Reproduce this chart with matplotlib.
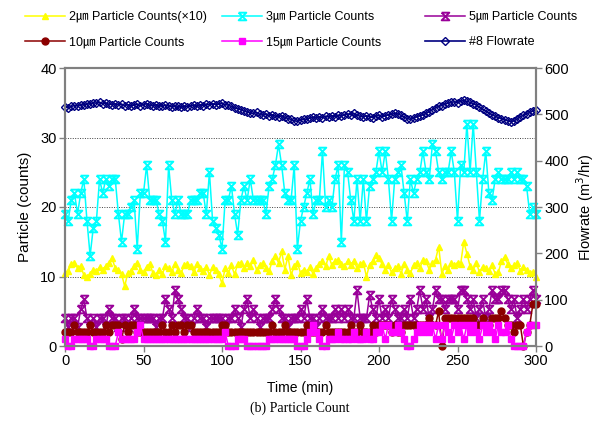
import numpy as np
import matplotlib
matplotlib.use("Agg")
import matplotlib.pyplot as plt
from matplotlib.path import Path

plt.rcParams.update({
    "font.family": ["Liberation Sans", "Noto Sans CJK JP", "DejaVu Sans"],
    "font.size": 10,
})

# time axis, one reading every 2 minutes
time_min = np.arange(0, 301, 2)

# 2 um particle counts (x10)
pc_2um = [
    10.5, 10.8, 11.8, 12.0, 11.2, 11.5, 10.2, 10.0, 10.3, 11.0,
    10.8, 11.3, 11.0, 11.5, 12.0, 12.6, 11.2, 11.0, 10.4, 8.6,
    10.5, 10.8, 11.5, 12.0, 11.0, 10.6, 11.4, 11.8, 10.5, 10.2,
    11.0, 10.4, 11.5, 11.2, 10.6, 11.8, 11.0, 10.5, 11.7, 11.8,
    11.5, 10.6, 11.8, 11.2, 10.8, 11.4, 10.2, 11.4, 11.0, 10.3,
    9.0, 11.2, 10.5, 11.6, 10.3, 11.8, 12.0, 11.2, 12.0, 11.5,
    12.4, 11.0, 11.6, 12.0, 11.2, 10.8, 12.2, 12.9, 12.0, 13.6,
    11.0, 12.9, 10.2, 11.5, 12.0, 10.5, 11.0, 10.6, 11.3, 10.4,
    11.2, 11.8, 12.3, 11.5, 12.9, 11.6, 12.2, 12.4, 11.8, 11.5,
    12.2, 11.6, 12.3, 11.2, 11.8, 12.0, 10.0, 11.7, 12.2, 13.1,
    12.6, 11.8, 11.0, 11.6, 10.6, 11.2, 11.5, 10.4, 11.8, 11.0,
    10.5, 11.6, 12.0, 11.2, 12.4, 12.2, 11.0, 12.0, 12.4, 14.3,
    10.4, 11.5, 11.0, 12.0, 11.6, 12.0, 11.8, 15.0, 13.3, 11.5,
    11.0, 12.0, 10.6, 11.4, 11.2, 10.8, 11.6, 10.4, 10.6, 12.2,
    12.8, 11.8, 11.2, 11.6, 12.0, 10.8, 11.4, 11.0, 10.5, 10.6,
    10.0,
]

# 3 um particle counts
pc_3um = [
    19, 18, 21, 22, 19, 22, 24, 18, 13, 17,
    18, 24, 22, 24, 23, 24, 24, 19, 15, 19,
    19, 20, 21, 14, 22, 22, 26, 21, 21, 21,
    19, 18, 15, 26, 21, 19, 21, 19, 19, 19,
    21, 21, 21, 22, 22, 19, 25, 18, 17, 16,
    14, 21, 21, 23, 19, 16, 21, 23, 21, 24,
    21, 21, 21, 21, 19, 23, 24, 26, 29, 26,
    22, 21, 21, 26, 14, 18, 20, 22, 24, 19,
    21, 21, 28, 20, 21, 20, 24, 26, 15, 26,
    25, 21, 18, 24, 18, 24, 18, 23, 24, 25,
    28, 25, 28, 24, 18, 24, 25, 26, 22, 18,
    24, 22, 24, 25, 28, 25, 24, 29, 28, 25,
    24, 25, 25, 28, 25, 18, 26, 25, 32, 25,
    32, 25, 18, 24, 28, 22, 21, 24, 25, 24,
    24, 24, 25, 24, 25, 24, 24, 23, 19, 20,
    19,
]

# 5 um particle counts
pc_5um = [
    4, 2.7, 4, 4, 2.7, 5.3, 6.7, 4, 2.7, 4,
    2.7, 4, 4, 2.7, 5.3, 4, 4, 2.7, 4, 4,
    2.7, 4, 5.3, 4, 4, 4, 4, 4, 4, 2.7,
    4, 4, 6.7, 5.3, 4, 8, 6.7, 5.3, 4, 4,
    2.7, 4, 5.3, 4, 4, 2.7, 4, 4, 4, 4,
    4, 2.7, 4, 4, 5.3, 4, 2.7, 5.3, 6.7, 4,
    5.3, 4, 2.7, 4, 4, 4, 5.3, 6.7, 5.3, 4,
    4, 2.7, 4, 4, 4, 5.3, 4, 6.7, 4, 4,
    2.7, 4, 5.3, 4, 4, 4, 5.3, 4, 5.3, 4,
    5.3, 4, 4, 8, 4, 4, 4, 7.3, 5.3, 4,
    6.7, 4, 5.3, 4, 6.7, 5.3, 4, 4, 5.3, 4,
    6.7, 4, 5.3, 8, 5.3, 6.7, 4, 5.3, 8, 6.7,
    6.7, 5.3, 6.7, 6.7, 6.7, 5.3, 8, 8, 6.7, 5.3,
    6.7, 4, 5.3, 6.7, 4, 5.3, 8, 6.7, 6.7, 8,
    8, 6.7, 5.3, 6.7, 4, 5.3, 6.7, 5.3, 6.7, 8,
    6.7,
]

# 10 um particle counts
pc_10um = [
    2, 2, 2, 3, 2, 2, 2, 2, 3, 2,
    2, 2, 2, 3, 2, 3, 3, 3, 1, 3,
    2, 3, 3, 2, 2, 2, 2, 2, 2, 2,
    2, 3, 2, 2, 3, 2, 3, 3, 2, 3,
    3, 2, 2, 2, 2, 2, 2, 2, 2, 2,
    3, 3, 2, 2, 2, 2, 2, 2, 2, 2,
    2, 2, 2, 2, 2, 2, 3, 2, 2, 2,
    3, 2, 2, 2, 2, 2, 2, 3, 2, 2,
    2, 2, 2, 3, 2, 2, 2, 2, 2, 2,
    2, 3, 2, 2, 3, 2, 2, 2, 3, 2,
    3, 3, 3, 3, 2, 3, 2, 2, 3, 3,
    3, 3, 3, 3, 3, 3, 4, 3, 3, 5,
    0, 4, 4, 4, 4, 4, 4, 4, 4, 4,
    4, 3, 3, 4, 3, 3, 4, 4, 4, 5,
    4, 3, 3, 2, 3, 3, 0, 2, 3, 6,
    6,
]

# 15 um particle counts
pc_15um = [
    1, 0, 0, 1, 1, 1, 1, 1, 0, 0,
    1, 1, 1, 1, 0, 0, 0, 2, 1, 1,
    1, 1, 1, 2, 3, 1, 1, 1, 1, 1,
    1, 1, 1, 1, 1, 1, 1, 1, 1, 1,
    1, 1, 1, 1, 1, 1, 1, 1, 1, 1,
    1, 2, 0, 0, 0, 1, 1, 1, 0, 0,
    0, 0, 0, 0, 0, 1, 1, 1, 1, 1,
    1, 1, 1, 1, 0, 0, 0, 1, 2, 3,
    2, 1, 0, 0, 1, 1, 1, 2, 1, 1,
    1, 1, 2, 1, 1, 1, 2, 1, 1, 2,
    2, 3, 1, 3, 2, 2, 3, 2, 1, 0,
    0, 1, 2, 3, 2, 3, 2, 3, 1, 3,
    1, 3, 2, 1, 3, 2, 3, 1, 3, 2,
    3, 2, 1, 3, 2, 3, 2, 1, 3, 2,
    2, 3, 1, 0, 0, 0, 0, 2, 3, 3,
    3,
]

# #8 flowrate (m3/hr)
flow_8 = [
    516, 514, 517, 519, 518, 521, 520, 523, 522, 525,
    524, 526, 523, 524, 522, 521, 523, 520, 522, 519,
    521, 518, 520, 522, 519, 521, 523, 520, 518, 521,
    519, 517, 520, 518, 516, 519, 517, 515, 518, 516,
    518, 520, 517, 521, 519, 522, 520, 523, 521, 522,
    524, 521, 520, 517, 514, 512, 510, 507, 505, 503,
    502, 504, 500, 498, 501, 497, 499, 496, 494, 497,
    494, 491, 489, 486, 485, 488, 490, 489, 492, 494,
    492, 495, 493, 496, 494, 497, 495, 498, 496, 499,
    501, 499, 502, 498, 496, 494, 497, 495, 493, 496,
    498, 495, 497, 499, 500, 502, 501, 498, 494, 491,
    489, 492, 495, 497, 499, 502, 506, 510, 514, 517,
    519, 522, 524, 526, 527, 525, 528, 530, 528, 526,
    523, 520, 515, 511, 507, 503, 499, 496, 493, 491,
    488, 486, 484, 486, 490, 495, 498, 501, 504, 507,
    510,
]

labels = ["2\u339b Particle Counts(\u00d710)", "3\u339b Particle Counts",
          "5\u339b Particle Counts", "10\u339b Particle Counts",
          "15\u339b Particle Counts", "#8 Flowrate"]

# hourglass marker like the spreadsheet "x with bars"
hourglass = Path([(-1, 1), (1, 1), (-1, -1), (1, -1), (-1, 1)],
                 [Path.MOVETO, Path.LINETO, Path.LINETO, Path.LINETO, Path.LINETO])

fig = plt.figure(figsize=(6.02, 4.28), dpi=100)
ax = fig.add_axes([65 / 602, 1 - 346 / 428, (536 - 65) / 602, (346 - 68) / 428])
ax2 = ax.twinx()

h2, = ax.plot(time_min, pc_2um, color="#FFFF00", lw=1.1, marker="^", ms=5,
              mec="#FFFF00", mfc="#FFFF00", clip_on=False, label=labels[0])
h3, = ax.plot(time_min, pc_3um, color="#00FFFF", lw=1.1, marker=hourglass, ms=5.5,
              mec="#00FFFF", mfc="none", mew=1.4, clip_on=False, label=labels[1])
h5, = ax.plot(time_min, pc_5um, color="#990099", lw=1.1, marker=hourglass, ms=5.5,
              mec="#990099", mfc="none", mew=1.4, clip_on=False, label=labels[2])
h10, = ax.plot(time_min, pc_10um, color="#8B0000", lw=1.1, marker="o", ms=5,
               mec="#8B0000", mfc="#8B0000", clip_on=False, label=labels[3])
h15, = ax.plot(time_min, pc_15um, color="#FF00FF", lw=1.1, marker="s", ms=5,
               mec="#FF00FF", mfc="#FF00FF", clip_on=False, label=labels[4])
hf, = ax2.plot(time_min, flow_8, color="#000080", lw=1.2, marker="D", ms=4.2,
               mec="#000080", mfc="none", mew=1.0, clip_on=False, label=labels[5])

ax.set_xlim(0, 300)
ax.set_ylim(0, 40)
ax2.set_ylim(0, 600)
ax.set_xticks(range(0, 301, 50))
ax.set_yticks(range(0, 41, 10))
ax2.set_yticks(range(0, 601, 100))

ax.yaxis.grid(True, linestyle=(0, (1, 1.5)), color="#404040", lw=0.7)
ax.set_axisbelow(True)

for a in (ax, ax2):
    for sp in a.spines.values():
        sp.set_color("#808080")
        sp.set_linewidth(1.5)
    a.tick_params(direction="out", length=4, width=1, color="#808080",
                  labelsize=10.5, pad=2)

ax.set_xlabel("Time (min)", fontsize=10, labelpad=9)
ax.set_ylabel("Particle (counts)", fontsize=11, labelpad=6)
ax2.set_ylabel("Flowrate (m$^3$/hr)", fontsize=10.5, labelpad=4)

# three legend columns, two rows each
legend_cols = [((h2, h10), 25), ((h3, h15), 222), ((h5, hf), 425)]
for handles, x_px in legend_cols:
    fig.legend(handles, [h.get_label() for h in handles], loc="upper left",
               bbox_to_anchor=(x_px / 602, 1 - 11 / 428), frameon=False,
               fontsize=9, handlelength=3.2, handletextpad=0.3,
               labelspacing=1.05, borderpad=0, borderaxespad=0, numpoints=1)

fig.text(300 / 602, 1 - 408 / 428, "(b) Particle Count", ha="center", va="center",
         fontsize=10, family=["Liberation Serif", "DejaVu Serif"])

fig.savefig("out.png", dpi=100)
